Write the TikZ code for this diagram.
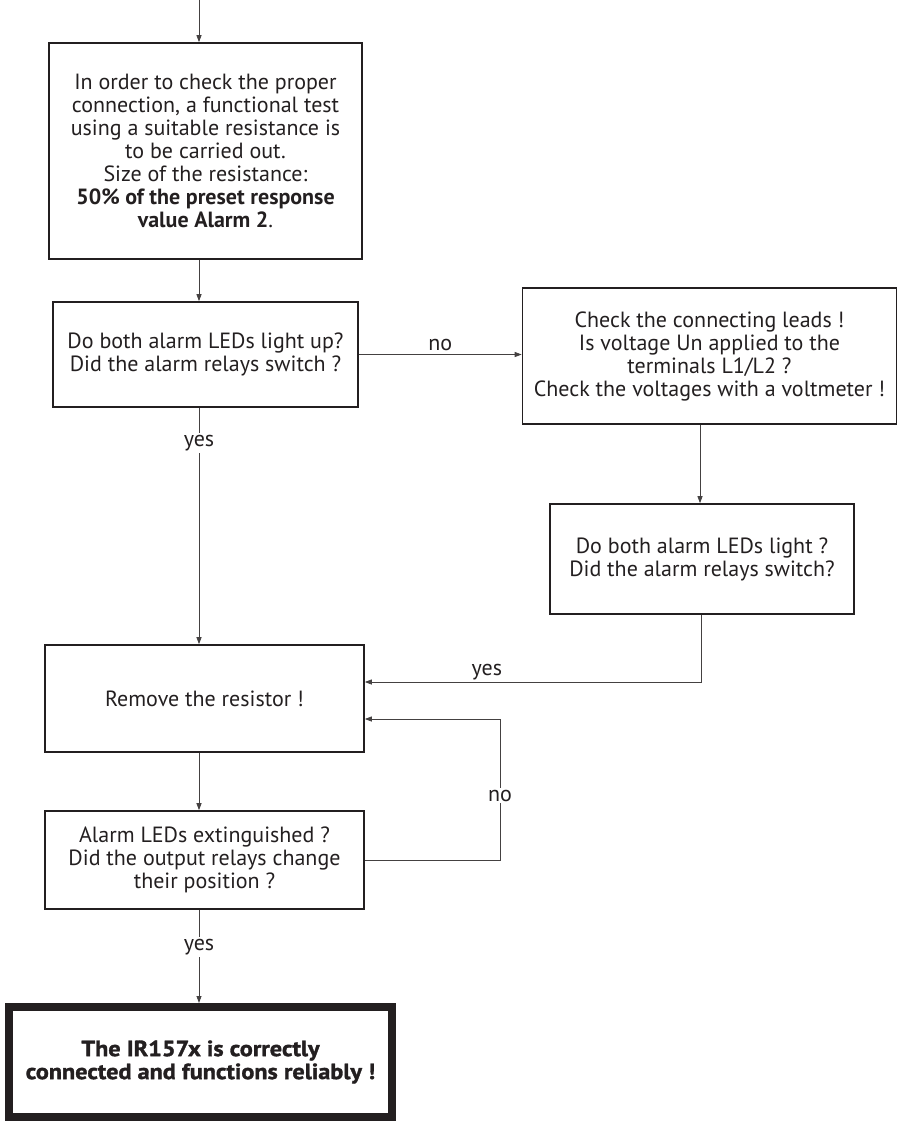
\documentclass[tikz,border=0pt]{standalone}
\usepackage{fontspec}
\setmainfont{PT Sans}
\newfontfamily\heavyfont[FakeBold=1.5,FakeStretch=1.1]{PT Sans Bold}
\usetikzlibrary{arrows.meta}
\definecolor{ink}{RGB}{35,31,32}
\begin{document}
\begin{tikzpicture}[x=1pt,y=-1pt,
  box/.style={draw=ink, line width=1.6pt, align=center, inner sep=0pt,
    font=\fontsize{22}{23}\selectfont, text=ink},
  conn/.style={draw=ink!85, line width=0.8pt},
  arr/.style={conn, -{Triangle[length=7pt,width=5pt]}},
  lbl/.style={font=\fontsize{22}{23}\selectfont, text=ink, inner sep=2pt}]
\useasboundingbox (0,0) rectangle (899,1121);

% main column of connectors
\coordinate (col) at (199,0);

\node[box, minimum width=313, minimum height=216] (b1) at (205.5,151)
  {In order to check the proper\\ connection, a functional test\\ using a suitable resistance is\\ to be carried out.\\ Size of the resistance:\\ \textbf{50\% of the preset response}\\ \textbf{value Alarm 2}.};

\node[box, minimum width=305, minimum height=105] (b2) at (205.5,354.5)
  {Do both alarm LEDs light up?\\ Did the alarm relays switch ?};

\node[box, minimum width=374, minimum height=136] (b3) at (709.5,356)
  {Check the connecting leads !\\ Is voltage Un applied to the\\ terminals L1/L2 ?\\ Check the voltages with a voltmeter !};

\node[box, minimum width=304, minimum height=110] (b4) at (702,559)
  {Do both alarm LEDs light ?\\ Did the alarm relays switch?};

\node[box, minimum width=319, minimum height=107] (b5) at (204.5,698.5)
  {Remove the resistor !};

\node[box, minimum width=319, minimum height=98] (b6) at (204.5,860)
  {Alarm LEDs extinguished ?\\ Did the output relays change\\ their position ?};

\node[draw=ink, line width=8pt, align=center, inner sep=0pt,
  minimum width=383, minimum height=110, text=ink,
  font=\heavyfont\fontsize{22}{23}\selectfont] (b7) at (200.5,1062)
  {The IR157x is correctly\\ connected and functions reliably !};

% connectors
\draw[arr] (col) -- (col |- b1.north);
\draw[arr] (col |- b1.south) -- (col |- b2.north);
\draw[arr] (b2.east) -- (b2.east -| b3.west)
  node[lbl, midway, above=1pt] {no};
\draw[arr] (col |- b2.south) -- (col |- b5.north)
  node[lbl, fill=white, pos=0.15] {yes};
\coordinate (rc) at (700,0);
\draw[arr] (rc |- b3.south) -- (rc |- b4.north);
\coordinate (yturn) at (701,682);
\draw[arr] (b4.south -| yturn) -- (yturn) -- (yturn -| b5.east)
  node[lbl, pos=0.5, above=0pt, xshift=-46pt] {yes};
\draw[arr] (col |- b5.south) -- (col |- b6.north);
\coordinate (nturn) at (500,719);
\draw[arr] (b6.east) -- (b6.east -| nturn) -- (nturn)
  node[lbl, fill=white, pos=0.457] {no}
  -- (nturn -| b5.east);
\draw[arr] (col |- b6.south) -- (col |- b7.north)
  node[lbl, fill=white, pos=0.4] {yes};
\end{tikzpicture}
\end{document}
